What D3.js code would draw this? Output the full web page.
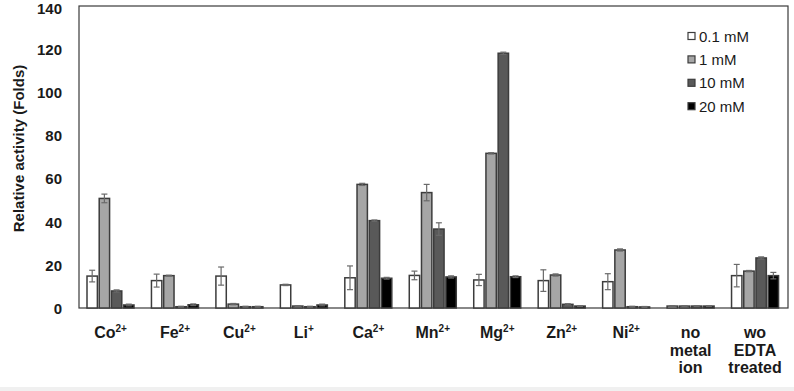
<!DOCTYPE html>
<html>
<head>
<meta charset="utf-8">
<script src="https://cdn.jsdelivr.net/npm/d3@7"></script>
<style>
  body { margin: 0; background: #fff; }
  text { font-family: "Liberation Sans", Arial, sans-serif; fill: #1a1a1a; }
</style>
</head>
<body>
<svg id="chart" width="794" height="391"></svg>
<script>
// categories: [main text, superscript] or multi-line labels
const categories = ['Co', 'Fe', 'Cu', 'Li', 'Ca', 'Mn', 'Mg', 'Zn', 'Ni', 'no metal ion', 'wo EDTA treated'];
const labelLines = [['Co'], ['Fe'], ['Cu'], ['Li'], ['Ca'], ['Mn'], ['Mg'], ['Zn'], ['Ni'], ['no', 'metal', 'ion'], ['wo', 'EDTA', 'treated']];
const charges = ['2+', '2+', '2+', '+', '2+', '2+', '2+', '2+', '2+', '', ''];
const seriesNames = ['0.1 mM', '1 mM', '10 mM', '20 mM'];
const seriesColors = ['#ffffff', '#a6a6a6', '#595959', '#000000'];

const v01 = [14.8, 12.7, 14.8, 10.7, 14.0, 15.1, 13.0, 12.7, 12.2, 0.9, 15.0];
const v1 = [50.8, 15.0, 1.8, 0.9, 57.3, 53.5, 71.7, 15.3, 26.9, 0.9, 17.1];
const v10 = [7.9, 0.6, 0.6, 0.6, 40.5, 36.6, 118.1, 1.7, 0.6, 0.9, 23.2];
const v20 = [1.4, 1.5, 0.6, 1.4, 13.8, 14.4, 14.5, 0.9, 0.5, 0.9, 15.0];

const e01 = [2.7, 3.0, 4.2, 0.3, 5.5, 2.0, 2.6, 5.0, 3.7, 0.2, 5.2];
const e1 = [2.0, 0.2, 0.3, 0.2, 0.5, 3.8, 0.3, 0.5, 0.5, 0.2, 0.3];
const e10 = [0.5, 0.2, 0.2, 0.2, 0.3, 2.9, 0.5, 0.3, 0.2, 0.2, 0.5];
const e20 = [0.4, 0.4, 0.2, 0.4, 0.4, 0.5, 0.4, 0.2, 0.2, 0.2, 1.5];

const yTicks = [0, 20, 40, 60, 80, 100, 120, 140];

const values = [v01, v1, v10, v20];
const errors = [e01, e1, e10, e20];

const svg = d3.select('#chart');
const margin = {top: 6, right: 6, bottom: 83, left: 79};
const W = 794, H = 391;
const width = W - margin.left - margin.right;
const height = H - margin.top - margin.bottom;

// faint strip at the very bottom
svg.append('rect').attr('x', 0).attr('y', 387).attr('width', W).attr('height', 4).attr('fill', '#f0f0f0');

const g = svg.append('g').attr('transform', `translate(${margin.left},${margin.top})`);

const x0 = d3.scaleBand().domain(categories).range([0, width]);
const x1 = d3.scaleBand().domain(seriesNames).range([8, 55]).paddingInner(0.15);
const y = d3.scaleLinear().domain([0, 140]).range([height, 0]);

// frame
g.append('rect')
  .attr('x', 0).attr('y', 0).attr('width', width).attr('height', height)
  .attr('fill', 'none').attr('stroke', '#3a3a3a').attr('stroke-width', 1.2);

// bars
const rows = [];
categories.forEach((c, i) => {
  seriesNames.forEach((s, j) => {
    rows.push({cat: c, ser: s, j: j, v: values[j][i], e: errors[j][i]});
  });
});

g.selectAll('rect.bar')
  .data(rows)
  .join('rect')
  .attr('class', 'bar')
  .attr('x', d => x0(d.cat) + x1(d.ser))
  .attr('y', d => y(d.v))
  .attr('width', x1.bandwidth())
  .attr('height', d => y(0) - y(d.v))
  .attr('fill', d => seriesColors[d.j])
  .attr('stroke', '#3c3c3c')
  .attr('stroke-width', 1.5);

// error bars
const eb = g.selectAll('g.err')
  .data(rows)
  .join('g')
  .attr('class', 'err')
  .attr('transform', d => `translate(${x0(d.cat) + x1(d.ser) + x1.bandwidth() / 2},0)`);
eb.append('line')
  .attr('y1', d => y(d.v - d.e)).attr('y2', d => y(d.v + d.e))
  .attr('stroke', '#6a6a6a').attr('stroke-width', 1.2);
eb.append('line')
  .attr('x1', -3).attr('x2', 3)
  .attr('y1', d => y(d.v + d.e)).attr('y2', d => y(d.v + d.e))
  .attr('stroke', '#6a6a6a').attr('stroke-width', 1.2);
eb.append('line')
  .attr('x1', -3).attr('x2', 3)
  .attr('y1', d => y(d.v - d.e)).attr('y2', d => y(d.v - d.e))
  .attr('stroke', '#6a6a6a').attr('stroke-width', 1.2);

// y axis
const yAxis = g.append('g')
  .call(d3.axisLeft(y).tickValues(yTicks).tickSize(0).tickPadding(17));
yAxis.select('.domain').remove();
yAxis.selectAll('text')
  .style('font-size', '15px')
  .style('font-weight', 'bold')
  .style('font-family', '"Liberation Sans", Arial, sans-serif')
  .attr('fill', '#1a1a1a')
  .attr('dy', d => d === 140 ? '0.5em' : '0.36em');

// y title
svg.append('text')
  .attr('transform', 'translate(24,148.5) rotate(-90)')
  .attr('text-anchor', 'middle')
  .style('font-size', '15px')
  .style('font-weight', 'bold')
  .text('Relative activity (Folds)');

// x labels
const xl = g.selectAll('text.xl')
  .data(categories)
  .join('text')
  .attr('class', 'xl')
  .attr('text-anchor', 'middle')
  .attr('x', d => x0(d) + 31.5)
  .attr('y', height + 30)
  .style('font-size', '16px')
  .style('font-weight', 'bold');
xl.each(function(d, i) {
  const t = d3.select(this);
  const lines = labelLines[i];
  lines.forEach((ln, k) => {
    t.append('tspan')
      .attr('x', x0(d) + 31.5)
      .attr('dy', k === 0 ? 0 : 17.5)
      .text(ln);
  });
  if (charges[i]) {
    t.append('tspan')
      .attr('dy', -6)
      .style('font-size', '10px')
      .text(charges[i]);
  }
});

// legend
const lg = svg.append('g').attr('transform', 'translate(688,0)');
seriesNames.forEach((s, j) => {
  const yy = 36 + j * 23.4;
  lg.append('rect')
    .attr('x', 0).attr('y', yy - 3.5).attr('width', 7).attr('height', 7)
    .attr('fill', seriesColors[j]).attr('stroke', '#3c3c3c').attr('stroke-width', 1.2);
  lg.append('text')
    .attr('x', 11).attr('y', yy + 5.5)
    .style('font-size', '15px')
    .text(s);
});
</script>
</body>
</html>
